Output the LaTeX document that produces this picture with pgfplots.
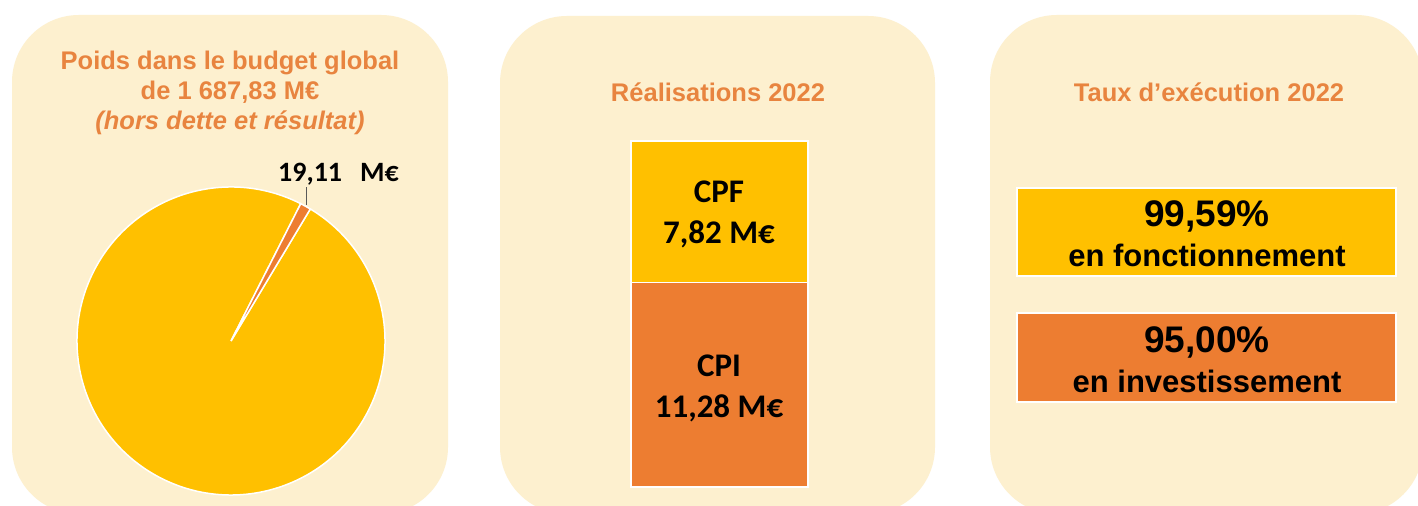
\documentclass[border=0pt]{standalone}
\usepackage{pgfplots}
\pgfplotsset{compat=1.18}
\usepackage{pgfplotstable}
\usepackage{fontspec}
\setmainfont{Liberation Sans}
\newfontfamily\calibri{Carlito}
\definecolor{cYellow}{HTML}{FFC000}
\definecolor{cOrange}{HTML}{ED7D31}
\definecolor{cPanel}{HTML}{FDF0CF}
\definecolor{cTitle}{HTML}{E8843F}
\definecolor{cLead}{HTML}{595959}

\pgfplotstableread{
part value
hors 1668.72
cp 19.11
}\pietable

\begin{document}
\begin{tikzpicture}[x=1bp,y=1bp]
\useasboundingbox (0,0) rectangle (1418,506);
\fill[white] (0,0) rectangle (1418,506);
\begin{scope}
\clip (0,0) rectangle (1418,506);
\fill[cPanel, rounded corners=67bp] (12,-8) rectangle (448,491);
\fill[cPanel, rounded corners=67bp] (500,-8) rectangle (935,490);
\fill[cPanel, rounded corners=67bp] (990,-8) rectangle (1423,491);
\end{scope}

% ---------- titles
\tikzset{ttl/.style={anchor=base, inner sep=0pt, text=cTitle, font=\fontsize{25.5bp}{30bp}\selectfont\bfseries}}
\node[ttl] at (230,436) {Poids dans le budget global};
\node[ttl] at (230,406) {de 1 687,83 M€};
\node[ttl, font=\fontsize{25.5bp}{30bp}\selectfont\bfseries\itshape] at (230,376) {(hors dette et résultat)};
\node[ttl] at (718,404) {Réalisations 2022};
\node[ttl] at (1209,404) {Taux d’exécution 2022};

% ---------- pie
\pgfplotstablegetelem{0}{value}\of\pietable \let\vRest\pgfplotsretval
\pgfplotstablegetelem{1}{value}\of\pietable \let\vCP\pgfplotsretval
\pgfmathsetmacro\aStart{59}
\pgfmathsetmacro\aEnd{\aStart + 360*\vCP/(\vCP+\vRest)}
\pgfmathsetmacro\aFull{\aStart+360}
\begin{axis}[at={(231bp,165bp)}, anchor=center, scale only axis,
  width=308bp, height=308bp, xmin=-1, xmax=1, ymin=-1, ymax=1,
  hide axis, clip=false]
\filldraw[fill=cYellow, draw=white, line width=1.5bp]
  (axis cs:0,0) -- (axis cs:{cos(\aEnd)},{sin(\aEnd)})
  arc[start angle=\aEnd, end angle=\aFull, radius=154bp] -- cycle;
\filldraw[fill=cOrange, draw=white, line width=1.5bp]
  (axis cs:0,0) -- (axis cs:{cos(\aStart)},{sin(\aStart)})
  arc[start angle=\aStart, end angle=\aEnd, radius=154bp] -- cycle;
\end{axis}
\draw[cLead, line width=0.8bp] (306,301) -- (306,319);
\node[anchor=base, inner sep=0pt, font=\calibri\fontsize{28bp}{30bp}\selectfont\bfseries] at (338.5,324) {19,11\hspace{18bp}M€};

% ---------- stacked bar
\begin{axis}[at={(719.5bp,192bp)}, anchor=center, scale only axis,
  width=300bp, height=346bp, xmin=-1, xmax=1, ymin=0, ymax=19.10,
  hide axis, clip=false, ybar stacked, bar width=177bp]
\addplot[fill=cOrange, draw=white, line width=1.5bp] coordinates {(0,11.28)};
\addplot[fill=cYellow, draw=white, line width=1.5bp] coordinates {(0,7.82)};
\end{axis}
\tikzset{blab/.style={anchor=base, inner sep=0pt, font=\calibri\fontsize{33bp}{36bp}\selectfont\bfseries}}
\node[blab] at (719,303) {CPF};
\node[blab] at (719,262) {7,82 M€};
\node[blab] at (719,129) {CPI};
\node[blab] at (719,88) {11,28 M€};

% ---------- execution rates
\filldraw[fill=cYellow, draw=white, line width=2bp] (1017,230) rectangle (1396,318);
\filldraw[fill=cOrange, draw=white, line width=2bp] (1017,104) rectangle (1396,193);
\tikzset{pct/.style={anchor=base, inner sep=0pt, font=\fontsize{37bp}{40bp}\selectfont\bfseries},
         sub/.style={anchor=base, inner sep=0pt, font=\fontsize{31bp}{34bp}\selectfont\bfseries}}
\node[pct] at (1207,279) {99,59\%};
\node[sub] at (1207,239) {en fonctionnement};
\node[pct] at (1207,153) {95,00\%};
\node[sub] at (1207,113) {en investissement};
\end{tikzpicture}
\end{document}
